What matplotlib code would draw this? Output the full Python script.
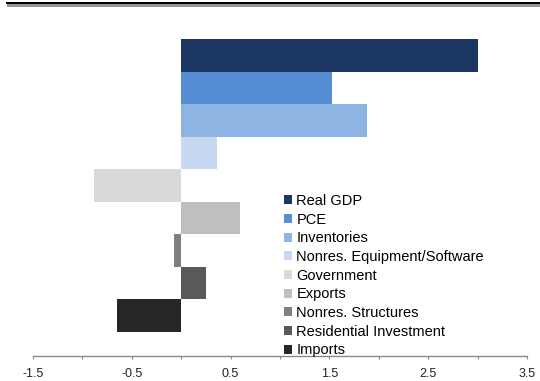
import matplotlib

matplotlib.use("Agg")
import matplotlib.pyplot as plt
import numpy as np
from matplotlib.patches import Patch, Rectangle

# contributions to real GDP growth, percentage points
categories = [
    "Real GDP",
    "PCE",
    "Inventories",
    "Nonres. Equipment/Software",
    "Government",
    "Exports",
    "Nonres. Structures",
    "Residential Investment",
    "Imports",
]
values = [3.0, 1.53, 1.88, 0.36, -0.88, 0.60, -0.07, 0.25, -0.65]
colors = [
    "#1b3761", "#558ed5", "#8eb4e3", "#c6d9f1", "#d9d9d9",
    "#bfbfbf", "#7f7f7f", "#595959", "#262626",
]
tick_values = np.arange(-1.5, 3.51, 0.5)
tick_labels = ["-1.5", "", "-0.5", "", "0.5", "", "1.5", "", "2.5", "", "3.5"]

plt.rcParams["font.family"] = ["Liberation Sans", "DejaVu Sans"]

W, H = 540, 381
fig = plt.figure(figsize=(W / 100, H / 100), dpi=100)
ax = fig.add_axes([33 / W, 1 - 356.3 / H, 494 / W, 317.3 / H])

y = np.arange(len(categories))
ax.barh(y, values, height=1.0, color=colors, left=0)
ax.set_ylim(9.26, -0.5)
ax.set_xlim(-1.5, 3.5)

ax.set_xticks(tick_values)
ax.set_xticklabels(tick_labels, fontsize=9, color="#222222")
ax.tick_params(axis="x", direction="out", length=2, width=0.8, color="#888888", pad=6.5)
ax.set_yticks([])
for side in ("top", "right", "left"):
    ax.spines[side].set_visible(False)
ax.spines["bottom"].set_color("#888888")
ax.spines["bottom"].set_linewidth(1.0)

handles = [Patch(facecolor=c, edgecolor="none") for c in colors]
fig.legend(
    handles, categories,
    loc="upper left", bbox_to_anchor=(284 / W, 1 - 194 / H),
    frameon=False, fontsize=10.5,
    handlelength=0.55, handleheight=0.55, handletextpad=0.3,
    labelspacing=0.32, borderpad=0, borderaxespad=0,
)

# double rule across the top
fig.add_artist(Rectangle((6 / W, 1 - 4 / H), 1, 2 / H, transform=fig.transFigure,
                         facecolor="black", edgecolor="none"))
fig.add_artist(Rectangle((7 / W, 1 - 7 / H), 1, 3 / H, transform=fig.transFigure,
                         facecolor="#969696", edgecolor="none"))

fig.savefig("out.png", dpi=100)
